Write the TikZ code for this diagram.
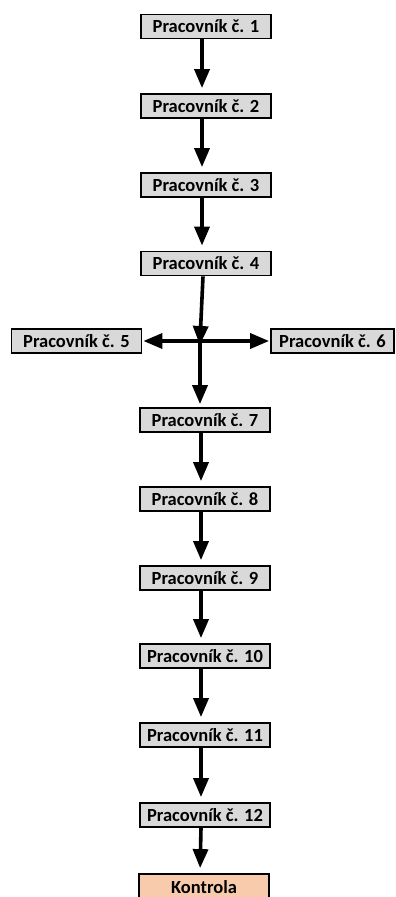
\documentclass[tikz,border=0pt]{standalone}
\usepackage{fontspec}
\setmainfont{Carlito}
\usepackage{tikz}
\usetikzlibrary{arrows.meta}

\begin{document}
\begin{tikzpicture}[x=1pt,y=-1pt]
    \tikzstyle{every node}+=[inner sep=0pt]
    \tikzstyle{worker}=[draw=black, line width=1.8pt, fill=black!15, minimum width=130pt, minimum height=24pt, font=\fontsize{18.5}{21}\selectfont\bfseries]
    \tikzstyle{check}=[worker, minimum height=27pt, fill={rgb,255:red,248;green,203;blue,173}]
    \tikzstyle{flow}=[line width=3.6pt, -{Triangle[length=19pt,width=15pt]}]
    \useasboundingbox (0,0) rectangle (396,897);
    \node [worker] (p1) at (206,26.5) {Pracovník č. 1};
    \node [worker] (p2) at (206,106) {Pracovník č. 2};
    \node [worker] (p3) at (206,185) {Pracovník č. 3};
    \node [worker] (p4) at (206,263.5) {Pracovník č. 4};
    \node [worker] (p5) at (76.5,341) {Pracovník č. 5};
    \node [worker, minimum width=123pt] (p6) at (332.5,341) {Pracovník č. 6};
    \node [worker] (p7) at (205,420) {Pracovník č. 7};
    \node [worker] (p8) at (205,499) {Pracovník č. 8};
    \node [worker] (p9) at (205,578) {Pracovník č. 9};
    \node [worker] (p10) at (205,656) {Pracovník č. 10};
    \node [worker] (p11) at (205,735) {Pracovník č. 11};
    \node [worker] (p12) at (205,815) {Pracovník č. 12};
    \node [check] (ctrl) at (204,887.5) {Kontrola};
    \coordinate (hub) at (200,341);
    % chain down to the split
    \draw [flow, shorten >=5pt] ([xshift=-4pt]p1.south) -- ([xshift=-4pt]p2.north);
    \draw [flow, shorten >=5pt] ([xshift=-4pt]p2.south) -- ([xshift=-4pt]p3.north);
    \draw [flow, shorten >=5pt] ([xshift=-4pt]p3.south) -- ([xshift=-4pt]p4.north);
    \draw [flow, shorten >=-4pt] ([xshift=-3pt]p4.south) -- (hub);
    % split
    \draw [flow, shorten >=1pt] (hub) -- (p5.east);
    \draw [flow, shorten >=1pt] (hub) -- (p6.west);
    \draw [flow, shorten >=3pt] (hub) -- (hub |- p7.north);
    % chain down to the check
    \draw [flow, shorten >=5pt] ([xshift=-4pt]p7.south) -- ([xshift=-4pt]p8.north);
    \draw [flow, shorten >=5pt] ([xshift=-4pt]p8.south) -- ([xshift=-4pt]p9.north);
    \draw [flow, shorten >=5pt] ([xshift=-4pt]p9.south) -- ([xshift=-4pt]p10.north);
    \draw [flow, shorten >=5pt] ([xshift=-4pt]p10.south) -- ([xshift=-4pt]p11.north);
    \draw [flow, shorten >=5pt] ([xshift=-4pt]p11.south) -- ([xshift=-4pt]p12.north);
    \draw [flow, shorten >=5pt] ([xshift=-4pt]p12.south) -- ([xshift=-4pt]ctrl.north);
\end{tikzpicture}
\end{document}
